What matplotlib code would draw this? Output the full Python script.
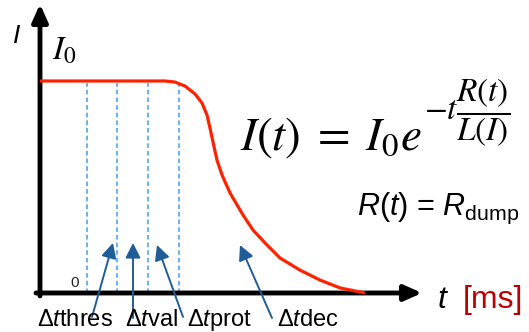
import numpy as np
import matplotlib.pyplot as plt

plt.rcParams['font.family'] = 'Liberation Sans'
plt.rcParams['mathtext.fontset'] = 'custom'
plt.rcParams['mathtext.rm'] = 'Liberation Sans'
plt.rcParams['mathtext.it'] = 'Liberation Sans:italic'

# current decay curve, I normalised to I0 = 1, t in arbitrary units
t_curve = [0, 12.5, 13.5, 14.5, 15.5, 16.2, 16.7, 17.0, 17.3, 17.7, 18.2, 19.0,
           20.3, 21.3, 22.5, 24.0, 26.0, 28.0, 30.0, 32.5]
i_curve = [1.0, 1.0, 0.995, 0.976, 0.939, 0.896, 0.840, 0.778, 0.712, 0.627,
           0.557, 0.472, 0.368, 0.297, 0.236, 0.165, 0.108, 0.061, 0.024, 0.0]

# interval boundaries (dashed lines)
t_marks = [4.7, 7.7, 10.8, 13.9]

# interval labels and their annotation arrows
mark_names = ['thres', 'val', 'prot', 'dec']
label_t = [-0.3, 8.5, 14.7, 23.7]
label_i = -0.155
tail_t = [5.2, 9.3, 14.3, 23.2]
tail_i = [-0.113, -0.118, -0.113, -0.118]
tip_t = [7.3, 9.3, 11.7, 20.0]
tip_i = [0.236, 0.236, 0.226, 0.226]

fig = plt.figure(figsize=(5.29, 3.32), dpi=100)
ax = fig.add_axes([0, 0, 1, 1])
ax.set_xlim(-4, 48.9)
ax.set_ylim(-0.184, 1.382)
ax.axis('off')

# dashed interval lines
ax.vlines(t_marks, 0, 0.99, colors='#3d9df2', lw=1.1, linestyles=(0, (3, 2)), zorder=1)

# red current curve
ax.plot(t_curve, i_curve, color='#ff2200', lw=2.3, solid_capstyle='butt',
        solid_joinstyle='round', zorder=4)

# axes with arrow heads
axis_style = '-|>,head_length=1.05,head_width=0.47'
ax.annotate('', xy=(0, 1.363), xytext=(0, -0.014),
            arrowprops=dict(arrowstyle=axis_style, color='black', lw=3.5,
                            mutation_scale=10, shrinkA=0, shrinkB=0), zorder=3)
ax.annotate('', xy=(38.2, 0), xytext=(-0.4, 0),
            arrowprops=dict(arrowstyle=axis_style, color='black', lw=3.5,
                            mutation_scale=10, shrinkA=0, shrinkB=0), zorder=3)

# blue arrows and labels
for name, lt, tt, ti, pt, pi in zip(mark_names, label_t, tail_t, tail_i, tip_t, tip_i):
    ax.annotate('', xy=(pt, pi), xytext=(tt, ti),
                arrowprops=dict(arrowstyle='-|>,head_length=0.75,head_width=0.38',
                                color='#1f5d99', lw=1.4, mutation_scale=12,
                                shrinkA=0, shrinkB=0), zorder=5)
    ax.text(lt, label_i, 'Δ$t$' + name, fontsize=17, va='baseline', ha='left', zorder=6)

# text labels
ax.text(-2.7, 1.179, 'I', fontsize=19, style='italic', va='baseline')
ax.text(1.2, 1.10, r'$I_0$', fontsize=24, math_fontfamily='stix', va='baseline')
ax.text(3.0, 0.028, '0', fontsize=11, color='#222222', va='baseline')
ax.text(39.8, -0.071, 't', fontsize=23, style='italic', va='baseline')
ax.text(42.3, -0.071, '[ms]', fontsize=23, color='#c00000', va='baseline')

# decay law: main part and raised exponent
ax.text(20.0, 0.675, r'$I(t)\;=\;I_0e$', fontsize=34,
        math_fontfamily='stix', va='baseline')
ax.text(38.4, 0.854, r'$-t\dfrac{R(t)}{L(I)}$', fontsize=24,
        math_fontfamily='stix', va='center')
ax.text(31.7, 0.368, r'$R(t)$ = $R_{\mathrm{dump}}$', fontsize=22, va='baseline')

fig.savefig('out.png', dpi=100)
